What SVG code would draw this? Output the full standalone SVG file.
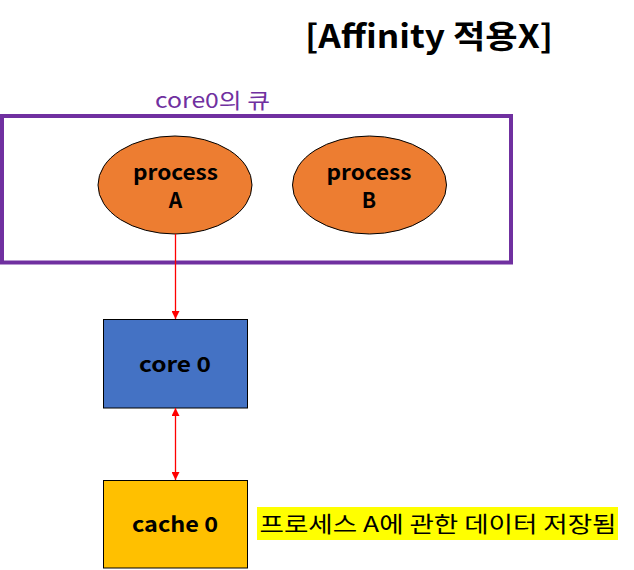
<svg xmlns="http://www.w3.org/2000/svg" width="634" height="570" viewBox="0 0 634 570">
<style>
text{font-family:"Noto Sans CJK KR","Noto Sans",sans-serif}
.b{font-weight:bold;font-size:21px;fill:#000;text-anchor:middle}
.node{stroke:#000;stroke-width:1}
.conn{stroke:#FF0000;stroke-width:1.3;fill:none}
</style>
<defs>
<marker id="ah" viewBox="0 0 10 10" refX="10" refY="5" markerWidth="8" markerHeight="8" markerUnits="userSpaceOnUse" orient="auto-start-reverse">
<path d="M0,0 L10,5 L0,10 z" fill="#FF0000"/>
</marker>
</defs>
<rect width="634" height="570" fill="#fff"/>
<text x="429" y="48" font-size="32" font-weight="bold" text-anchor="middle" textLength="248" lengthAdjust="spacingAndGlyphs">[Affinity 적용X]</text>
<g id="queue">
<rect x="2" y="116" width="509" height="146.5" fill="none" stroke="#7030A0" stroke-width="4"/>
<text x="212.5" y="108" font-size="21" fill="#7030A0" text-anchor="middle" textLength="115" lengthAdjust="spacingAndGlyphs">core0의 큐</text>
</g>
<g id="processA">
<ellipse class="node" cx="175" cy="185" rx="77" ry="49" fill="#ED7D31"/>
<text class="b" x="175.5" y="180" textLength="85" lengthAdjust="spacingAndGlyphs">process</text>
<text class="b" x="175.5" y="208">A</text>
</g>
<g id="processB">
<ellipse class="node" cx="369.5" cy="185" rx="77" ry="49" fill="#ED7D31"/>
<text class="b" x="369" y="180" textLength="85" lengthAdjust="spacingAndGlyphs">process</text>
<text class="b" x="369" y="208">B</text>
</g>
<g id="core0">
<rect class="node" x="103.5" y="319.5" width="144" height="88.5" fill="#4472C4"/>
<text class="b" x="175" y="372" textLength="72" lengthAdjust="spacingAndGlyphs">core 0</text>
</g>
<g id="cache0">
<rect class="node" x="103.5" y="480.5" width="144" height="87.5" fill="#FFC000"/>
<text class="b" x="175" y="532" textLength="86" lengthAdjust="spacingAndGlyphs">cache 0</text>
</g>
<g id="note">
<rect x="257" y="507" width="361" height="33" fill="#FFFF00"/>
<text x="438" y="532" font-size="22" text-anchor="middle" fill="#000" textLength="357" lengthAdjust="spacingAndGlyphs">프로세스 A에 관한 데이터 저장됨</text>
</g>
<g id="connectors">
<line class="conn" x1="175.5" y1="234" x2="175.5" y2="319" marker-end="url(#ah)"/>
<line class="conn" x1="175.5" y1="408" x2="175.5" y2="480" marker-start="url(#ah)" marker-end="url(#ah)"/>
</g>
</svg>
